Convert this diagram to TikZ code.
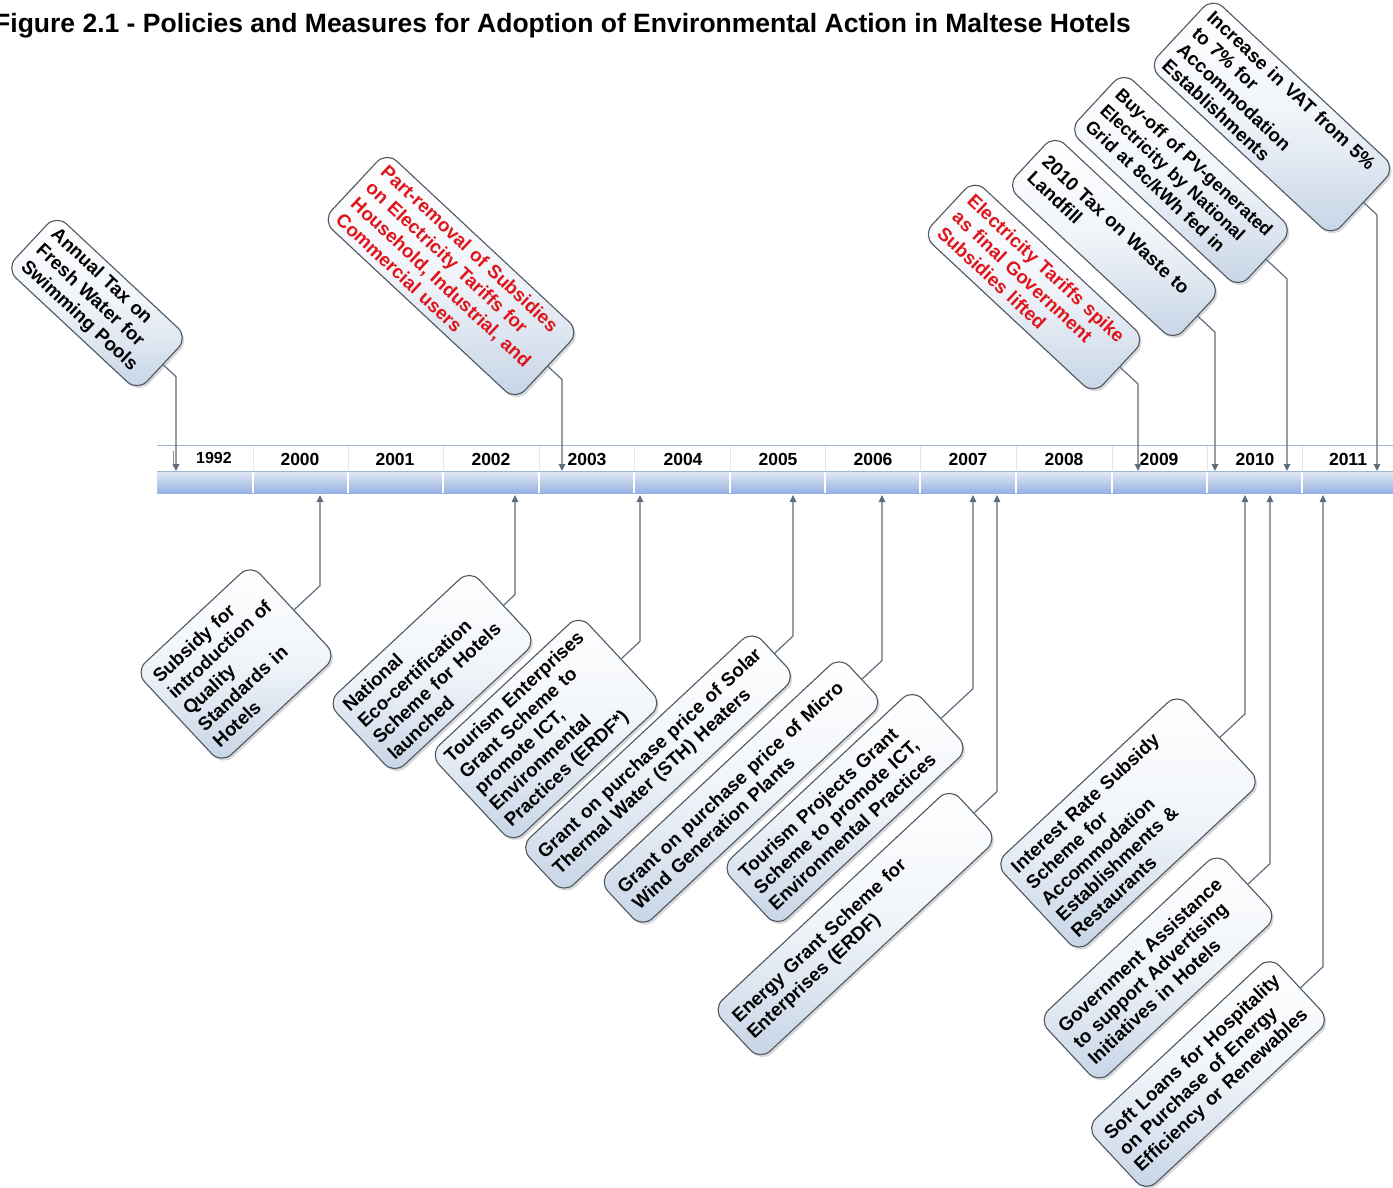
\documentclass[tikz,border=0pt]{standalone}
\usepackage{fontspec}
\setmainfont{Liberation Sans}
\usetikzlibrary{arrows.meta,shadows,calc}

\definecolor{boxline}{HTML}{4E5862}
\definecolor{boxblue}{HTML}{C6D4E6}
\definecolor{boxmid}{HTML}{F0F4F9}
\definecolor{linkgray}{HTML}{5E6E7E}
\definecolor{alertred}{HTML}{E0151B}
\definecolor{railline}{HTML}{9DB3CF}
\definecolor{bartop}{HTML}{E4EAF4}
\definecolor{barbot}{HTML}{95B2E3}

% connector from the lower end of an upper box down to the rail
\newcommand\dropline[2]{%
  \draw[link] let \p1=(#1.east), \p2=(#2) in
    (\p1) -- (\x2,{\y1-(\x2-\x1)*tan(43)}) -- (\p2);}
% connector from the upper end of a lower box up to the rail
\newcommand\riseline[2]{%
  \draw[link] let \p1=(#1.east), \p2=(#2) in
    (\p1) -- (\x2,{\y1+(\x2-\x1)*tan(43)}) -- (\p2);}

\begin{document}
\begin{tikzpicture}[x=1pt,y=1pt,
  evbox/.style={draw=boxline, line width=1.1pt, rounded corners=14pt,
    top color=white, bottom color=boxblue, middle color=boxmid, align=left,
    font=\fontsize{18.8}{22}\selectfont\bfseries,
    inner xsep=10pt, inner ysep=5pt,
    drop shadow={shadow xshift=2pt, shadow yshift=-2.5pt, opacity=0.3}},
  upbox/.style={evbox, rotate=-43},
  lowbox/.style={evbox, rotate=43},
  redtext/.style={text=alertred},
  link/.style={draw=linkgray, line width=1.2pt,
    -{Triangle[width=6.5pt,length=7pt]}},
  year/.style={font=\fontsize{17.5}{20}\selectfont\bfseries, inner sep=0pt},
]
\useasboundingbox (0,0) rectangle (1393,-1187);
\fill[white] (0,0) rectangle (1393,-1187);

% title
\node[anchor=base west, inner sep=0pt,
  font=\fontsize{26.5}{30}\selectfont\bfseries] (title) at (-6,-32)
  {Figure 2.1 - Policies and Measures for Adoption of Environmental Action in Maltese Hotels};

% time rail
\fill[top color=bartop, bottom color=barbot] (157,-471) rectangle (1400,-493);
\draw[railline, line width=1pt] (157,-445) -- (1400,-445);
\draw[railline, line width=1pt] (157,-471) -- (1400,-471);
\foreach \s in {253,348,443,539,634,730,825,920,1016,1112,1207,1302}{
  \draw[white, line width=1.6pt] (\s,-472) -- (\s,-493);
  \draw[black!10, line width=0.8pt] (\s,-446) -- (\s,-470);
}
\draw[black!45, line width=0.8pt] (173,-451) -- (173,-467);

\node[year, font=\fontsize{16}{18}\selectfont\bfseries] (y1992) at (214,-458) {1992};
\node[year] (y2000) at (300,-459) {2000};
\node[year] (y2001) at (395,-459) {2001};
\node[year] (y2002) at (491,-459) {2002};
\node[year] (y2003) at (587,-459) {2003};
\node[year] (y2004) at (683,-459) {2004};
\node[year] (y2005) at (778,-459) {2005};
\node[year] (y2006) at (873,-459) {2006};
\node[year] (y2007) at (968,-459) {2007};
\node[year] (y2008) at (1064,-459) {2008};
\node[year] (y2009) at (1159,-459) {2009};
\node[year] (y2010) at (1255,-459) {2010};
\node[year] (y2011) at (1348,-459) {2011};

% arrow targets on the rail
\coordinate (t1) at (176,-471);
\coordinate (t2) at (562,-471);
\coordinate (t3) at (1138,-471);
\coordinate (t4) at (1215,-471);
\coordinate (t5) at (1287,-471);
\coordinate (t6) at (1377,-471);
\coordinate (b1) at (320,-495);
\coordinate (b2) at (515,-495);
\coordinate (b3) at (640,-495);
\coordinate (b4) at (793,-495);
\coordinate (b5) at (882,-495);
\coordinate (b6) at (973,-495);
\coordinate (b7) at (997,-495);
\coordinate (b8) at (1245,-495);
\coordinate (b9) at (1270,-495);
\coordinate (b10) at (1323,-495);

% measures above the rail
\node[upbox, text width=160, minimum height=74] (u1) at (97,-303)
  {Annual Tax on\\Fresh Water for\\Swimming Pools};
\node[upbox, redtext, text width=244, minimum height=94] (u2) at (451,-276)
  {Part-removal of Subsidies\\on Electricity Tariffs for\\Household, Industrial, and\\Commercial users};
\node[upbox, redtext, text width=214, minimum height=76] (u3) at (1034,-287)
  {Electricity Tariffs spike\\as final Government\\Subsidies lifted};
\node[upbox, text width=208, minimum height=70] (u4) at (1114,-238)
  {2010 Tax on Waste to\\Landfill};
\node[upbox, text width=212, minimum height=80,
  font=\fontsize{18}{22}\selectfont\bfseries] (u5) at (1181,-180)
  {Buy-off of PV-generated\\Electricity by National\\Grid at 8c/kWh fed in};
\node[upbox, text width=230, minimum height=94] (u6) at (1272,-117)
  {Increase in VAT from 5\%\\to 7\% for\\Accommodation\\Establishments};

% measures below the rail
\node[lowbox, text width=138, minimum height=126] (l1) at (236,-664)
  {Subsidy for\\introduction of\\Quality\\Standards in\\Hotels};
\node[lowbox, text width=175, minimum height=98] (l2) at (432,-672)
  {National\\Eco-certification\\Scheme for Hotels\\launched};
\node[lowbox, text width=185, minimum height=122] (l3) at (546,-729)
  {Tourism Enterprises\\Grant Scheme to\\promote ICT,\\Environmental\\Practices (ERDF*)};
\node[lowbox, text width=298, minimum height=64] (l4) at (658,-762)
  {Grant on purchase price of Solar\\Thermal Water (STH) Heaters};
\node[lowbox, text width=310, minimum height=64] (l5) at (741,-792)
  {Grant on purchase price of Micro\\Wind Generation Plants};
\node[lowbox, text width=242, minimum height=82] (l6) at (845,-808)
  {Tourism Projects Grant\\Scheme to promote ICT,\\Environmental Practices};
\node[lowbox, text width=305, minimum height=70] (l7) at (855,-924)
  {Energy Grant Scheme for\\Enterprises (ERDF)};
\node[lowbox, text width=230, minimum height=122] (l8) at (1128,-823)
  {Interest Rate Subsidy\\Scheme for\\Accommodation\\Establishments \&\\Restaurants};
\node[lowbox, text width=225, minimum height=88] (l9) at (1158,-968)
  {Government Assistance\\to support Advertising\\Initiatives in Hotels};
\node[lowbox, text width=232, minimum height=88] (l10) at (1208,-1074)
  {Soft Loans for Hospitality\\on Purchase of Energy\\Efficiency or Renewables};

% connectors
\dropline{u1}{t1}
\dropline{u2}{t2}
\dropline{u3}{t3}
\dropline{u4}{t4}
\dropline{u5}{t5}
\dropline{u6}{t6}
\riseline{l1}{b1}
\riseline{l2}{b2}
\riseline{l3}{b3}
\riseline{l4}{b4}
\riseline{l5}{b5}
\riseline{l6}{b6}
\riseline{l7}{b7}
\riseline{l8}{b8}
\riseline{l9}{b9}
\riseline{l10}{b10}
\end{tikzpicture}
\end{document}
